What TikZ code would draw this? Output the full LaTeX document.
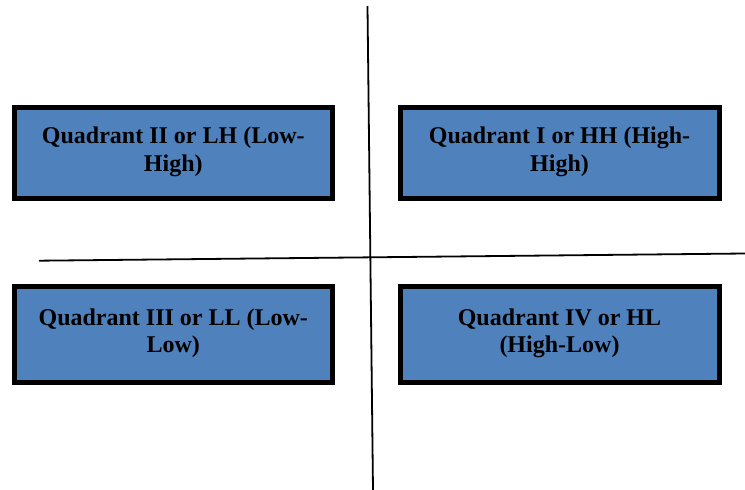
\documentclass[tikz,border=0pt]{standalone}
\usepackage{fontspec}
\setmainfont{Liberation Serif}
\definecolor{qblue}{RGB}{79,129,189}
\begin{document}
\begin{tikzpicture}[x=1pt,y=-1pt,
  box/.style={draw=black, line width=5pt, fill=qblue, inner sep=0pt},
  lbl/.style={font=\bfseries\fontsize{24}{27.6}\selectfont, align=center, inner sep=0pt},
  axis/.style={draw=black, line width=1.8pt}]
\useasboundingbox (0,0) rectangle (745,490);
\fill[white] (0,0) rectangle (745,490);
% boxes
\node[box, minimum width=318pt, minimum height=91pt] (q2) at (173.3,153) {};
\node[box, minimum width=319pt, minimum height=91pt] (q1) at (559.5,153) {};
\node[box, minimum width=318pt, minimum height=96.5pt] (q3) at (173.3,334.7) {};
\node[box, minimum width=319pt, minimum height=96.5pt] (q4) at (559.5,334.7) {};
% labels
\node[lbl] (t2) at ([yshift=1pt]q2.center) {Quadrant II or LH (Low-\\High)};
\node[lbl] (t1) at ([yshift=1pt]q1.center) {Quadrant I or HH (High-\\High)};
\node[lbl] (t3) at ([yshift=1.5pt]q3.center) {Quadrant III or LL (Low-\\Low)};
\node[lbl] (t4) at ([yshift=1.5pt]q4.center) {Quadrant IV or HL\\(High-Low)};
% axes
\coordinate (vt) at (367.5,6);
\coordinate (vb) at (373,490);
\coordinate (hl) at (39,260.7);
\coordinate (hr) at (745,253.5);
\draw[axis] (vt) -- (vb);
\draw[axis] (hl) -- (hr);
\end{tikzpicture}
\end{document}
